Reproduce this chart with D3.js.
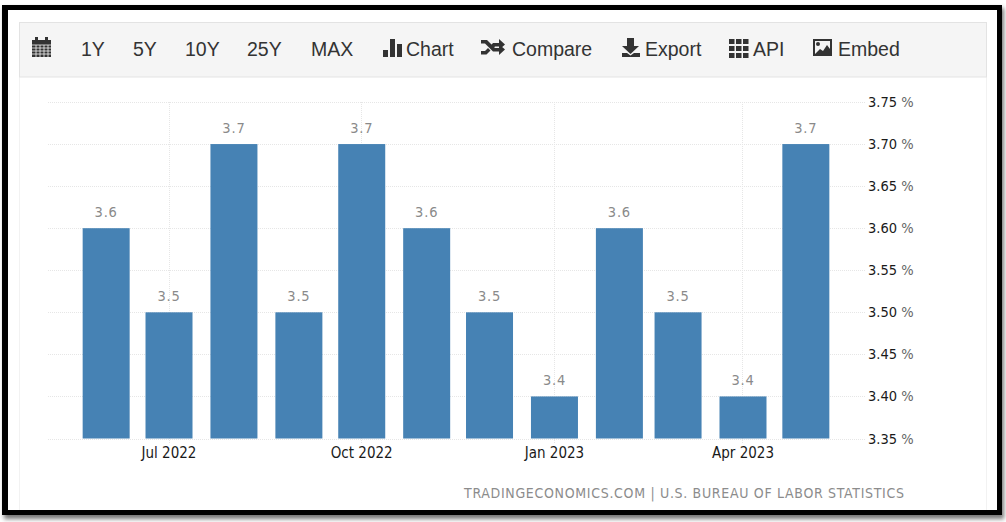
<!DOCTYPE html>
<html>
<head>
<meta charset="utf-8">
<script src="https://cdn.jsdelivr.net/npm/d3@7"></script>
<style>
  html, body { margin: 0; padding: 0; background: #fff; overflow: hidden; }
  svg { display: block; }
  .cond { font-family: "DejaVu Sans", sans-serif; font-stretch: condensed; }
</style>
</head>
<body>
<script>
let months = ["2022-06-01","2022-07-01","2022-08-01","2022-09-01","2022-10-01","2022-11-01","2022-12-01","2023-01-01","2023-02-01","2023-03-01","2023-04-01","2023-05-01"];
let rates = [3.6,3.5,3.7,3.5,3.7,3.6,3.5,3.4,3.6,3.5,3.4,3.7];
let yTicks = [3.35,3.40,3.45,3.50,3.55,3.60,3.65,3.70,3.75];
let xTicks = ["2022-07-01","2022-10-01","2023-01-01","2023-04-01"];
let toolbarItems = [
  {label:"1Y", x:81},
  {label:"5Y", x:133},
  {label:"10Y", x:185},
  {label:"25Y", x:247},
  {label:"MAX", x:311},
  {label:"Chart", x:406},
  {label:"Compare", x:512},
  {label:"Export", x:645},
  {label:"API", x:753},
  {label:"Embed", x:838}
];
let source = "TRADINGECONOMICS.COM | U.S. BUREAU OF LABOR STATISTICS";

let svg = d3.select('body').append('svg')
  .attr('width',1006)
  .attr('height',522)
  .style('font-family','"Liberation Sans", Arial, sans-serif');

let parse = d3.utcParse("%Y-%m-%d");

// frame with soft shadow
let defs = svg.append('defs');
let blur = defs.append('filter').attr('id','shadow')
  .attr('x','-2%').attr('y','-2%').attr('width','104%').attr('height','104%');
blur.append('feGaussianBlur').attr('stdDeviation',2);

svg.append('rect').attr('x',4).attr('y',8).attr('width',1000).attr('height',511)
  .attr('fill','#777').attr('filter','url(#shadow)');
svg.append('rect').attr('x',2).attr('y',5).attr('width',1000).attr('height',510)
  .attr('fill','#000');
svg.append('rect').attr('x',8).attr('y',10).attr('width',989).attr('height',500)
  .attr('fill','#fff');
svg.append('line').attr('x1',19.5).attr('x2',19.5).attr('y1',77).attr('y2',510).attr('stroke','#f2f2f2');
svg.append('line').attr('x1',986.5).attr('x2',986.5).attr('y1',77).attr('y2',510).attr('stroke','#f2f2f2');

// toolbar
svg.append('rect').attr('x',19.5).attr('y',22.5).attr('width',967).attr('height',54.5)
  .attr('fill','#f5f5f5').attr('stroke','#e3e3e3');

svg.append('g').selectAll('text').data(toolbarItems).join('text')
  .attr('x',d => d.x)
  .attr('y',56)
  .attr('font-size',19.5)
  .attr('fill','#333')
  .text(d => d.label);

let icons = svg.append('g').attr('fill','#333');
// calendar
icons.append('path').attr('d','M32 40h19v17h-19z M35 37h3v3h-3z M45 37h3v3h-3z');
let cal = svg.append('g').attr('stroke','#f5f5f5').attr('stroke-width',0.8);
[36,40,44,48].forEach(x => cal.append('line').attr('x1',x).attr('x2',x).attr('y1',45).attr('y2',57));
[45,48,51,54].forEach(y => cal.append('line').attr('x1',32).attr('x2',51).attr('y1',y).attr('y2',y));
// bars
icons.append('path').attr('d','M383 50h5v7h-5z M390 39h5v18h-5z M397 44h5v13h-5z');
// shuffle
icons.append('path').attr('d','M481 40h6l8 8h4v-4l6 5.500-6 5.500v-3.500h-6l-8-8h-4z M481 51h4l3-3 2.500 2.500-4 4h-5.500z M493 43h6v-4l6 5.500-6 5.500v-3.500h-4l-3 3-2.500-2.500z');
// download
icons.append('path').attr('d','M627 38h7v8h5l-8.500 8-8.500-8h5z M622 53h5l3.500 2.500 3.500-2.500h6v4h-18z');
// grid
let apiCells = [729,736,743];
apiCells.forEach(x => [39,46,53].forEach(y => icons.append('rect').attr('x',x).attr('y',y).attr('width',5.500).attr('height',5)));
// picture
icons.append('path').attr('fill-rule','evenodd')
  .attr('d','M813 39h19v17h-19z M815 41v13h15v-13z');
icons.append('circle').attr('cx',818).attr('cy',44).attr('r',2);
icons.append('path').attr('d','M815 54l5-5 3 2 4-6 3 4v5z');

// scales
let x = d3.scaleUtc()
  .domain([parse("2022-05-04"), parse("2023-05-29")])
  .range([47.5,864.5]);
let y = d3.scaleLinear()
  .domain([3.35,3.75])
  .range([438.5,102]);

// grid
let grid = svg.append('g');
grid.selectAll('.hgrid').data(yTicks).join('line')
  .attr('class','hgrid')
  .attr('x1',48).attr('x2',865)
  .attr('y1',d => Math.round(y(d))+0.5).attr('y2',d => Math.round(y(d))+0.5)
  .attr('stroke','#e6e6e6').attr('stroke-dasharray','1,1');
grid.selectAll('.vgrid').data(xTicks).join('line')
  .attr('class','vgrid')
  .attr('x1',d => Math.floor(x(parse(d)))+0.5).attr('x2',d => Math.floor(x(parse(d)))+0.5)
  .attr('y1',102).attr('y2',444)
  .attr('stroke','#e6e6e6').attr('stroke-dasharray','1,1');

// bars
let barWidth = 47;
svg.append('g').selectAll('rect').data(months).join('rect')
  .attr('x',d => x(parse(d))-barWidth/2)
  .attr('y',(d,i) => y(rates[i]))
  .attr('width',barWidth)
  .attr('height',(d,i) => y(3.35)-y(rates[i]))
  .attr('fill','#4682b4');

// value labels
svg.append('g').selectAll('text').data(months).join('text')
  .attr('class','cond')
  .attr('x',d => x(parse(d)))
  .attr('y',(d,i) => y(rates[i])-11)
  .attr('text-anchor','middle')
  .attr('font-size',14.5)
  .attr('fill','#8a8a8a')
  .attr('letter-spacing',0.8)
  .text((d,i) => d3.format('.1f')(rates[i]));

// y axis labels
let yLab = svg.append('g').selectAll('text').data(yTicks).join('text')
  .attr('class','cond')
  .attr('x',868)
  .attr('y',d => y(d)+5)
  .attr('font-size',14.5)
  .attr('fill','#1a1a1a');
yLab.append('tspan').text(d => d3.format('.2f')(d)+' ');
yLab.append('tspan').attr('fill','#666').text('%');

// x axis labels
svg.append('g').selectAll('text').data(xTicks).join('text')
  .attr('class','cond')
  .attr('x',d => x(parse(d)))
  .attr('y',458)
  .attr('text-anchor','middle')
  .attr('font-size',15)
  .attr('fill','#1a1a1a')
  .text(d => d3.utcFormat("%b %Y")(parse(d)));

// source line
svg.append('text')
  .attr('class','cond')
  .attr('x',464).attr('y',498)
  .attr('font-size',14)
  .attr('textLength',440)
  .attr('fill','#8c8c8c')
  .text(source);
</script>
</body>
</html>
